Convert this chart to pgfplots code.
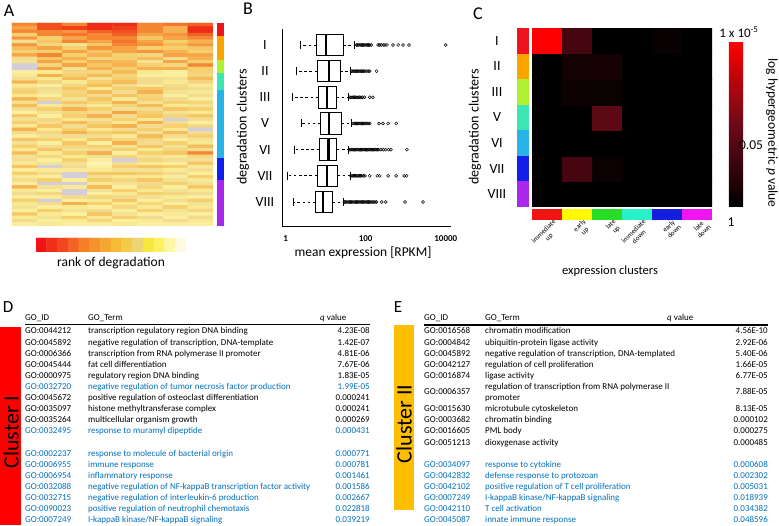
\documentclass[border=0pt]{standalone}
\usepackage{fontspec}
\setmainfont{Carlito}
\usepackage{pgfplots}
\pgfplotsset{compat=1.18}
\usepgfplotslibrary{statistics}
\definecolor{cI}{RGB}{238,20,30}
\definecolor{cII}{RGB}{250,165,0}
\definecolor{cIII}{RGB}{175,240,50}
\definecolor{cV}{RGB}{60,230,180}
\definecolor{cVI}{RGB}{40,180,230}
\definecolor{cVII}{RGB}{20,30,235}
\definecolor{cVIII}{RGB}{170,40,235}
\definecolor{eI}{RGB}{240,20,20}
\definecolor{eII}{RGB}{255,250,0}
\definecolor{eIII}{RGB}{40,220,40}
\definecolor{eIV}{RGB}{40,240,200}
\definecolor{eV}{RGB}{20,30,220}
\definecolor{eVI}{RGB}{240,20,240}
\definecolor{goblue}{RGB}{0,112,192}
\definecolor{clI}{RGB}{255,0,0}
\definecolor{clII}{RGB}{255,190,0}
\pgfplotsset{
 colormap={heat}{[1pt] rgb255(0pt)=(238,28,20) rgb255(15pt)=(242,80,30) rgb255(30pt)=(245,135,50) rgb255(45pt)=(246,178,80) rgb255(60pt)=(246,208,110) rgb255(72pt)=(242,222,150) rgb255(82pt)=(250,236,145) rgb255(92pt)=(252,245,190) rgb255(100pt)=(253,250,228) rgb255(105pt)=(253,250,228) rgb255(110pt)=(214,206,214)},
 colormap={heatbar}{[1pt] rgb255(0pt)=(238,20,20) rgb255(15pt)=(242,70,30) rgb255(30pt)=(245,125,40) rgb255(45pt)=(246,165,45) rgb255(60pt)=(246,200,60) rgb255(70pt)=(235,215,120) rgb255(80pt)=(252,240,40) rgb255(90pt)=(252,245,150) rgb255(100pt)=(253,250,225)},
 colormap={pval}{[1pt] rgb255(0pt)=(0,0,0) rgb255(50pt)=(110,10,25) rgb255(100pt)=(255,0,0)},
}
\newcommand{\GOD}[5]{%
 \node[GOt, anchor=base west, text=#2] at (25,#1+3) {#3};
 \node[GOt, anchor=base west, text=#2] at (88,#1+3) {#4};
 \node[GOt, anchor=base east, text=#2] at (370,#1+3) {#5};}
\newcommand{\GOE}[5]{%
 \node[GOt, anchor=base west, text=#2] at (424,#1+3) {#3};
 \node[GOt, anchor=base west, text=#2] at (485,#1+3) {#4};
 \node[GOt, anchor=base east, text=#2] at (768,#1+3) {#5};}
\begin{document}
\begin{tikzpicture}[GOt/.style={inner sep=0pt, font=\fontsize{9}{10}\selectfont}]
\useasboundingbox (0pt,0pt) rectangle (779pt,525pt);

% ---------- A: heatmap ----------
\begin{axis}[at={(12pt,299pt)}, anchor=south west, scale only axis, width=201pt, height=203pt,
  hide axis, xmin=-0.5, xmax=7.5, ymin=-0.5, ymax=59.5, y dir=reverse,
  colormap name=heat, point meta min=0, point meta max=1.1]
\addplot[matrix plot*, mesh/cols=8, point meta=explicit] table[row sep=\\, x expr={\coordindex-8*floor((\coordindex+0.5)/8)}, y expr={floor((\coordindex+0.5)/8)}, meta=c] {
c\\
0.30\\0.15\\0.30\\0.05\\0.05\\0.30\\0.25\\0.20\\
0.40\\0.15\\0.10\\0.05\\0.10\\0.30\\0.45\\0.05\\
0.30\\0.30\\0.35\\0.20\\0.15\\0.30\\0.45\\0.05\\
0.60\\0.30\\0.25\\0.30\\0.20\\0.40\\0.35\\0.20\\
0.35\\0.60\\0.40\\0.30\\0.30\\0.55\\0.40\\0.30\\
0.70\\0.55\\0.30\\0.40\\0.25\\0.40\\0.60\\0.45\\
0.35\\0.65\\0.75\\0.55\\0.30\\0.35\\0.50\\0.35\\
0.50\\0.40\\0.60\\0.35\\0.40\\0.60\\0.60\\0.55\\
0.60\\0.60\\0.40\\0.55\\0.40\\0.35\\0.45\\0.60\\
0.40\\0.30\\0.60\\0.45\\0.60\\0.65\\0.40\\0.40\\
0.70\\0.55\\0.45\\0.65\\0.60\\0.50\\0.70\\0.45\\
0.75\\0.40\\0.60\\0.45\\0.50\\0.75\\0.40\\0.60\\
1.10\\0.65\\0.40\\0.55\\0.45\\0.60\\0.65\\0.30\\
1.10\\0.40\\0.75\\0.45\\0.60\\0.45\\0.45\\0.60\\
0.85\\0.80\\0.65\\0.65\\0.50\\0.80\\0.85\\0.60\\
0.80\\0.45\\0.60\\0.50\\0.65\\0.85\\0.85\\0.65\\
0.70\\0.80\\0.50\\0.75\\0.60\\0.70\\0.75\\0.50\\
0.45\\0.65\\0.80\\0.60\\0.50\\0.70\\0.80\\0.65\\
0.80\\0.85\\0.65\\0.50\\0.70\\0.80\\0.70\\0.80\\
0.65\\0.70\\0.55\\0.80\\0.60\\0.55\\0.65\\0.70\\
0.60\\0.75\\0.65\\0.50\\0.70\\0.45\\0.75\\0.80\\
0.80\\0.85\\0.60\\0.70\\0.55\\0.65\\0.85\\0.70\\
0.45\\0.65\\0.75\\0.55\\0.80\\0.60\\0.70\\0.85\\
0.75\\1.10\\0.55\\0.65\\0.45\\0.75\\0.60\\0.65\\
0.50\\0.80\\0.70\\0.80\\0.65\\0.50\\0.80\\0.75\\
0.70\\0.60\\0.45\\0.60\\0.75\\0.70\\0.55\\0.60\\
0.85\\0.75\\0.65\\0.70\\0.40\\0.60\\0.75\\0.80\\
0.55\\0.85\\0.60\\0.45\\0.70\\0.55\\0.65\\0.55\\
0.75\\0.65\\0.80\\0.75\\0.60\\0.80\\1.10\\0.70\\
0.60\\0.70\\0.50\\0.65\\0.80\\0.45\\0.70\\0.85\\
0.80\\0.55\\0.70\\0.55\\0.45\\0.70\\0.60\\0.65\\
0.45\\0.80\\0.60\\0.80\\0.70\\0.60\\0.80\\1.10\\
0.70\\0.65\\0.45\\0.60\\0.55\\0.75\\0.50\\0.70\\
0.85\\0.75\\0.70\\0.70\\0.80\\0.50\\0.70\\0.60\\
0.55\\0.60\\0.80\\0.55\\0.65\\0.65\\0.85\\0.75\\
0.75\\0.85\\0.55\\0.85\\0.45\\0.70\\0.60\\0.80\\
0.60\\0.70\\0.65\\0.60\\0.75\\0.55\\0.75\\0.50\\
0.80\\0.55\\0.75\\0.70\\0.60\\0.80\\0.65\\0.70\\
0.50\\0.80\\0.60\\0.45\\0.85\\0.60\\0.55\\0.30\\
0.75\\0.65\\0.80\\0.75\\0.65\\0.75\\0.80\\0.65\\
0.70\\0.85\\0.60\\0.85\\1.10\\0.65\\0.70\\0.75\\
0.80\\0.75\\0.75\\0.90\\0.70\\0.80\\0.85\\0.55\\
0.55\\1.10\\0.70\\0.85\\0.60\\0.55\\0.60\\0.80\\
0.85\\0.80\\0.80\\0.80\\0.75\\0.75\\0.80\\0.70\\
0.60\\0.70\\1.10\\0.55\\0.55\\0.60\\0.70\\0.85\\
0.80\\0.85\\1.10\\0.75\\0.80\\0.80\\0.85\\0.60\\
0.70\\0.60\\0.85\\0.60\\0.65\\0.55\\0.75\\0.80\\
0.85\\1.10\\1.10\\0.80\\0.75\\0.70\\0.60\\0.75\\
0.45\\0.75\\0.80\\0.50\\0.85\\0.65\\0.85\\0.55\\
0.80\\0.85\\1.10\\0.75\\0.60\\0.80\\0.75\\0.80\\
0.70\\0.65\\1.10\\0.85\\0.80\\0.60\\0.65\\0.70\\
0.85\\0.80\\0.70\\0.65\\0.70\\0.75\\0.80\\0.85\\
0.60\\1.10\\0.85\\0.80\\0.55\\0.85\\0.70\\0.60\\
0.80\\0.70\\0.45\\0.60\\0.80\\0.65\\0.85\\0.75\\
0.75\\0.85\\0.80\\0.85\\0.65\\0.80\\0.60\\0.80\\
0.85\\0.60\\0.75\\0.70\\0.85\\0.60\\0.75\\0.65\\
0.55\\0.80\\0.85\\0.55\\0.75\\0.85\\0.80\\0.85\\
0.80\\0.75\\0.60\\0.80\\0.60\\0.70\\0.85\\0.70\\
0.70\\0.85\\0.80\\0.65\\0.85\\0.80\\0.70\\0.80\\
0.85\\0.80\\0.85\\0.85\\0.80\\0.85\\0.85\\0.85\\
};
\end{axis}

% A: cluster strip
\begin{axis}[at={(217pt,299pt)}, anchor=south west, scale only axis, width=7pt, height=203pt,
  hide axis, ybar stacked, bar width=7pt, xmin=-0.5, xmax=0.5, ymin=0, ymax=203]
\addplot[fill=cVIII, draw=none] coordinates {(0,46)};
\addplot[fill=cVII, draw=none] coordinates {(0,22)};
\addplot[fill=cVI, draw=none] coordinates {(0,68)};
\addplot[fill=cV, draw=none] coordinates {(0,17)};
\addplot[fill=cIII, draw=none] coordinates {(0,13)};
\addplot[fill=cII, draw=none] coordinates {(0,24)};
\addplot[fill=cI, draw=none] coordinates {(0,13)};
\end{axis}

% A: colour scale
\begin{axis}[at={(36pt,273pt)}, anchor=south west, scale only axis, width=150pt, height=14pt,
  hide axis, xmin=-0.5, xmax=13.5, ymin=-0.5, ymax=1.5,
  colormap name=heatbar, point meta min=0, point meta max=1]
\addplot[matrix plot*, mesh/cols=14, point meta=explicit] table[row sep=\\, x expr={\coordindex-14*floor((\coordindex+0.5)/14)}, y expr={floor((\coordindex+0.5)/14)}, meta=c] {
c\\
0.00\\0.08\\0.15\\0.23\\0.31\\0.38\\0.46\\0.54\\0.62\\0.69\\0.77\\0.85\\0.92\\1.00\\
0.00\\0.08\\0.15\\0.23\\0.31\\0.38\\0.46\\0.54\\0.62\\0.69\\0.77\\0.85\\0.92\\1.00\\
};
\end{axis}

% ---------- B: boxplots ----------
\begin{axis}[at={(282pt,299pt)}, anchor=south west, scale only axis, width=169pt, height=197pt,
  xmin=-0.09, xmax=4.13, ymin=0.083, ymax=7.61, clip=false,
  axis lines=left, axis line style={-, line width=0.8pt},
  major tick length=0pt,
  xtick={0,2,4}, xticklabels={\textbf{1},\textbf{100},\textbf{10000}},
  xticklabel style={anchor=center, yshift=-13pt, font=\fontsize{9}{9}\selectfont},
  ytick={1,2,3,4,5,6,7}, yticklabels={VIII,VII,VI,V,III,II,I},
  yticklabel style={anchor=center, xshift=-17pt, font=\fontsize{14}{14}\selectfont},
  boxplot/box extend=0.82, boxplot/whisker extend=0,
  boxplot/every box/.style={fill=white, line width=0.9pt},
  boxplot/every median/.style={line width=2.4pt},
  boxplot/every whisker/.style={dash pattern=on 2.6pt off 2.6pt, line width=0.8pt},
  ]
\addplot[black, mark=o, mark size=1.5pt, mark options={line width=0.5pt},
  boxplot prepared={lower whisker=0.36, lower quartile=0.77, median=1.01, upper quartile=1.44, upper whisker=1.73, draw position=7}]
  table[row sep=\\, y index=0] {1.77\\1.80\\1.83\\1.86\\1.89\\1.92\\1.95\\1.98\\2.01\\2.04\\2.07\\2.10\\2.14\\2.31\\2.35\\2.39\\2.44\\2.48\\2.53\\2.68\\2.81\\2.93\\3.08\\4.00\\};
\addplot[black, mark=o, mark size=1.5pt, mark options={line width=0.5pt},
  boxplot prepared={lower whisker=0.27, lower quartile=0.79, median=1.09, upper quartile=1.36, upper whisker=1.63, draw position=6}]
  table[row sep=\\, y index=0] {1.65\\1.68\\1.71\\1.74\\1.77\\1.80\\1.83\\1.86\\1.89\\1.92\\1.95\\1.98\\2.02\\2.06\\2.10\\2.27\\};
\addplot[black, mark=o, mark size=1.5pt, mark options={line width=0.5pt},
  boxplot prepared={lower whisker=0.17, lower quartile=0.82, median=1.04, upper quartile=1.27, upper whisker=1.57, draw position=5}]
  table[row sep=\\, y index=0] {1.60\\1.63\\1.66\\1.69\\1.72\\1.75\\1.78\\1.81\\1.84\\1.88\\1.92\\1.97\\2.10\\2.18\\};
\addplot[black, mark=o, mark size=1.5pt, mark options={line width=0.5pt},
  boxplot prepared={lower whisker=0.40, lower quartile=0.875, median=1.08, upper quartile=1.40, upper whisker=1.65, draw position=4}]
  table[row sep=\\, y index=0] {1.68\\1.71\\1.74\\1.77\\1.80\\1.83\\1.86\\1.89\\1.92\\1.95\\1.98\\2.02\\2.06\\2.10\\2.33\\2.43\\2.56\\2.76\\};
\addplot[black, mark=o, mark size=1.5pt, mark options={line width=0.5pt},
  boxplot prepared={lower whisker=0.23, lower quartile=0.84, median=1.07, upper quartile=1.28, upper whisker=1.57, draw position=3}]
  table[row sep=\\, y index=0] {1.60\\1.63\\1.66\\1.69\\1.72\\1.75\\1.78\\1.81\\1.84\\1.87\\1.90\\1.93\\1.96\\1.99\\2.02\\2.05\\2.08\\2.11\\2.14\\2.17\\2.20\\2.23\\2.26\\2.29\\2.32\\2.38\\2.44\\2.50\\2.57\\2.63\\3.03\\};
\addplot[black, mark=o, mark size=1.5pt, mark options={line width=0.5pt},
  boxplot prepared={lower whisker=0.05, lower quartile=0.79, median=1.04, upper quartile=1.30, upper whisker=1.61, draw position=2}]
  table[row sep=\\, y index=0] {1.63\\1.66\\1.69\\1.72\\1.75\\1.78\\1.81\\1.84\\1.87\\1.90\\1.94\\1.98\\2.10\\2.29\\2.35\\2.56\\2.76\\2.96\\3.02\\};
\addplot[black, mark=o, mark size=1.5pt, mark options={line width=0.5pt},
  boxplot prepared={lower whisker=0.19, lower quartile=0.75, median=0.93, upper quartile=1.17, upper whisker=1.44, draw position=1}]
  table[row sep=\\, y index=0] {1.47\\1.50\\1.53\\1.56\\1.59\\1.62\\1.65\\1.68\\1.71\\1.74\\1.77\\1.80\\1.83\\1.86\\1.89\\1.92\\1.95\\1.98\\2.01\\2.04\\2.07\\2.10\\2.13\\2.16\\2.19\\2.23\\2.27\\2.40\\2.50\\2.98\\3.43\\};
\addplot[only marks, mark=|, mark size=4pt, mark options={line width=0.9pt, black}] coordinates {
 (0.36,7) (1.73,7) (0.27,6) (1.63,6) (0.17,5) (1.57,5) (0.40,4) (1.65,4)
 (0.23,3) (1.57,3) (0.05,2) (1.61,2) (0.19,1) (1.44,1)};
\end{axis}

% ---------- C: enrichment heatmap ----------
\begin{axis}[at={(517pt,318pt)}, anchor=south west, scale only axis, width=12pt, height=179pt,
  ybar stacked, bar width=12pt, xmin=-0.5, xmax=0.5, ymin=0, ymax=7,
  axis line style={draw=none}, major tick length=0pt, xtick=\empty,
  ytick={0.5,1.5,2.5,3.5,4.5,5.5,6.5}, yticklabels={VIII,VII,VI,V,III,II,I},
  yticklabel style={anchor=center, xshift=-20pt, font=\fontsize{14}{14}\selectfont}]
\addplot[fill=cVIII, draw=none] coordinates {(0,1)};
\addplot[fill=cVII, draw=none] coordinates {(0,1)};
\addplot[fill=cVI, draw=none] coordinates {(0,1)};
\addplot[fill=cV, draw=none] coordinates {(0,1)};
\addplot[fill=cIII, draw=none] coordinates {(0,1)};
\addplot[fill=cII, draw=none] coordinates {(0,1)};
\addplot[fill=cI, draw=none] coordinates {(0,1)};
\end{axis}

\begin{axis}[at={(532pt,318pt)}, anchor=south west, scale only axis, width=180pt, height=179pt,
  xmin=-0.5, xmax=5.5, ymin=-0.5, ymax=6.5, axis line style={draw=none}, ticks=none,
  colormap name=pval, point meta min=0, point meta max=1,
  colorbar, colorbar style={at={(parent axis.north east)}, anchor=north west, xshift=8.3pt, yshift=-13.4pt,
    width=17pt, height=165pt, ytick=\empty, xtick=\empty, axis line style={draw=none}}]
\addplot[matrix plot*, mesh/cols=6, point meta=explicit] table[row sep=\\, x expr={\coordindex-6*floor((\coordindex+0.5)/6)}, y expr={floor((\coordindex+0.5)/6)}, meta=c] {
c\\
0\\0\\0\\0\\0\\0\\
0\\0.32\\0.05\\0\\0\\0\\
0\\0\\0\\0\\0\\0\\
0\\0\\0.42\\0\\0\\0\\
0\\0.06\\0.04\\0\\0\\0\\
0\\0.08\\0.10\\0\\0\\0\\
1.0\\0.32\\0\\0\\0.03\\0\\
};
\end{axis}

\begin{axis}[at={(532pt,305pt)}, anchor=south west, scale only axis, width=180pt, height=11pt,
  xbar stacked, bar width=11pt, xmin=0, xmax=6, ymin=-0.5, ymax=0.5,
  axis line style={draw=none}, major tick length=0pt, ytick=\empty,
  xtick={0.5,1.5,2.5,3.5,4.5,5.5},
  xticklabels={{immediate\\up},{early\\up},{late\\up},{immediate\\down},{early\\down},{late\\down}},
  xticklabel style={rotate=45, anchor=north east, align=center, xshift=6pt, yshift=-2pt,
    inner sep=1pt, font=\fontsize{7}{7.5}\selectfont}]
\addplot[fill=eI, draw=none] coordinates {(1,0)};
\addplot[fill=eII, draw=none] coordinates {(1,0)};
\addplot[fill=eIII, draw=none] coordinates {(1,0)};
\addplot[fill=eIV, draw=none] coordinates {(1,0)};
\addplot[fill=eV, draw=none] coordinates {(1,0)};
\addplot[fill=eVI, draw=none] coordinates {(1,0)};
\end{axis}

% ---------- texts and tables ----------
\begin{scope}[x=1pt, y=-1pt, shift={(0pt,525pt)}]
\node[font=\fontsize{18}{18}\selectfont, inner sep=0pt] at (9,11) {A};
\node[font=\fontsize{18}{18}\selectfont, inner sep=0pt] at (248,9) {B};
\node[font=\fontsize{18}{18}\selectfont, inner sep=0pt] at (478,14) {C};
\node[font=\fontsize{17}{17}\selectfont, inner sep=0pt] at (8,307) {D};
\node[font=\fontsize{17}{17}\selectfont, inner sep=0pt] at (398,307) {E};

\node[font=\fontsize{13.5}{14}\selectfont] at (111,263) {rank of degradation};
\node[font=\fontsize{13.5}{14}\selectfont] at (363,253) {mean expression [RPKM]};
\node[font=\fontsize{14}{14}\selectfont, rotate=90] at (243,127) {degradation clusters};
\node[font=\fontsize{14}{14}\selectfont, rotate=90] at (475,127) {degradation clusters};
\node[font=\fontsize{12.5}{13}\selectfont] at (610,271) {expression clusters};
\node[font=\fontsize{13}{13}\selectfont] at (739,32) {1 x 10\textsuperscript{-5}};
\node[font=\fontsize{13.5}{14}\selectfont] at (751,145) {0.05};
\node[font=\fontsize{13.5}{14}\selectfont] at (731,222) {1};
\node[font=\fontsize{13.5}{14}\selectfont, rotate=-90] at (772,133) {log hypergeometric \textit{p} value};

% D table
\fill[clI] (0,327) rectangle (21,525);
\node[font=\fontsize{22}{22}\selectfont, rotate=90] at (11,432) {Cluster I};
\node[GOt, anchor=base west] at (25,321) {GO\_ID};
\node[GOt, anchor=base west] at (88,321) {GO\_Term};
\node[GOt, anchor=base west] at (320,321) {\textit{q} value};
\draw[line width=1.3pt] (25,324.5) -- (370,324.5);
\GOD{331}{black}{GO:0044212}{transcription regulatory region DNA binding}{4.23E-08}
\GOD{342.1}{black}{GO:0045892}{negative regulation of transcription, DNA-template}{1.42E-07}
\GOD{353.2}{black}{GO:0006366}{transcription from RNA polymerase II promoter}{4.81E-06}
\GOD{364.3}{black}{GO:0045444}{fat cell differentiation}{7.67E-06}
\GOD{375.4}{black}{GO:0000975}{regulatory region DNA binding}{1.83E-05}
\GOD{386.5}{goblue}{GO:0032720}{negative regulation of tumor necrosis factor production}{1.99E-05}
\GOD{397.6}{black}{GO:0045672}{positive regulation of osteoclast differentiation}{0.000241}
\GOD{408.7}{black}{GO:0035097}{histone methyltransferase complex}{0.000241}
\GOD{419.8}{black}{GO:0035264}{multicellular organism growth}{0.000269}
\GOD{430.9}{goblue}{GO:0032495}{response to muramyl dipeptide}{0.000431}
\GOD{453.1}{goblue}{GO:0002237}{response to molecule of bacterial origin}{0.000771}
\GOD{464.2}{goblue}{GO:0006955}{immune response}{0.000781}
\GOD{475.3}{goblue}{GO:0006954}{inflammatory response}{0.001461}
\GOD{486.4}{goblue}{GO:0032088}{negative regulation of NF-kappaB transcription factor activity}{0.001586}
\GOD{497.5}{goblue}{GO:0032715}{negative regulation of interleukin-6 production}{0.002667}
\GOD{508.6}{goblue}{GO:0090023}{positive regulation of neutrophil chemotaxis}{0.022818}
\GOD{519.7}{goblue}{GO:0007249}{I-kappaB kinase/NF-kappaB signaling}{0.039219}

% E table
\fill[clII] (394,325) rectangle (414,510);
\node[font=\fontsize{22}{22}\selectfont, rotate=90] at (404,424) {Cluster II};
\node[GOt, anchor=base west] at (424,321) {GO\_ID};
\node[GOt, anchor=base west] at (485,321) {GO\_Term};
\node[GOt, anchor=base west] at (667,321) {\textit{q} value};
\draw[line width=1.3pt] (424,325) -- (768,325);
\GOE{331}{black}{GO:0016568}{chromatin modification}{4.56E-10}
\GOE{342.1}{black}{GO:0004842}{ubiquitin-protein ligase activity}{2.92E-06}
\GOE{353.2}{black}{GO:0045892}{negative regulation of transcription, DNA-templated}{5.40E-06}
\GOE{364.3}{black}{GO:0042127}{regulation of cell proliferation}{1.66E-05}
\GOE{375.4}{black}{GO:0016874}{ligase activity}{6.77E-05}
\GOE{392}{black}{GO:0006357}{}{7.88E-05}
\node[GOt, anchor=base west] at (485,389.5) {regulation of transcription from RNA polymerase II};
\node[GOt, anchor=base west] at (485,400.6) {promoter};
\GOE{408.7}{black}{GO:0015630}{microtubule cytoskeleton}{8.13E-05}
\GOE{419.8}{black}{GO:0003682}{chromatin binding}{0.000102}
\GOE{430.9}{black}{GO:0016605}{PML body}{0.000275}
\GOE{442}{black}{GO:0051213}{dioxygenase activity}{0.000485}
\GOE{464.2}{goblue}{GO:0034097}{response to cytokine}{0.000608}
\GOE{475.3}{goblue}{GO:0042832}{defense response to protozoan}{0.002302}
\GOE{486.4}{goblue}{GO:0042102}{positive regulation of T cell proliferation}{0.005031}
\GOE{497.5}{goblue}{GO:0007249}{I-kappaB kinase/NF-kappaB signaling}{0.018939}
\GOE{508.6}{goblue}{GO:0042110}{T cell activation}{0.034382}
\GOE{519.7}{goblue}{GO:0045087}{innate immune response}{0.048596}
\end{scope}
\end{tikzpicture}
\end{document}
